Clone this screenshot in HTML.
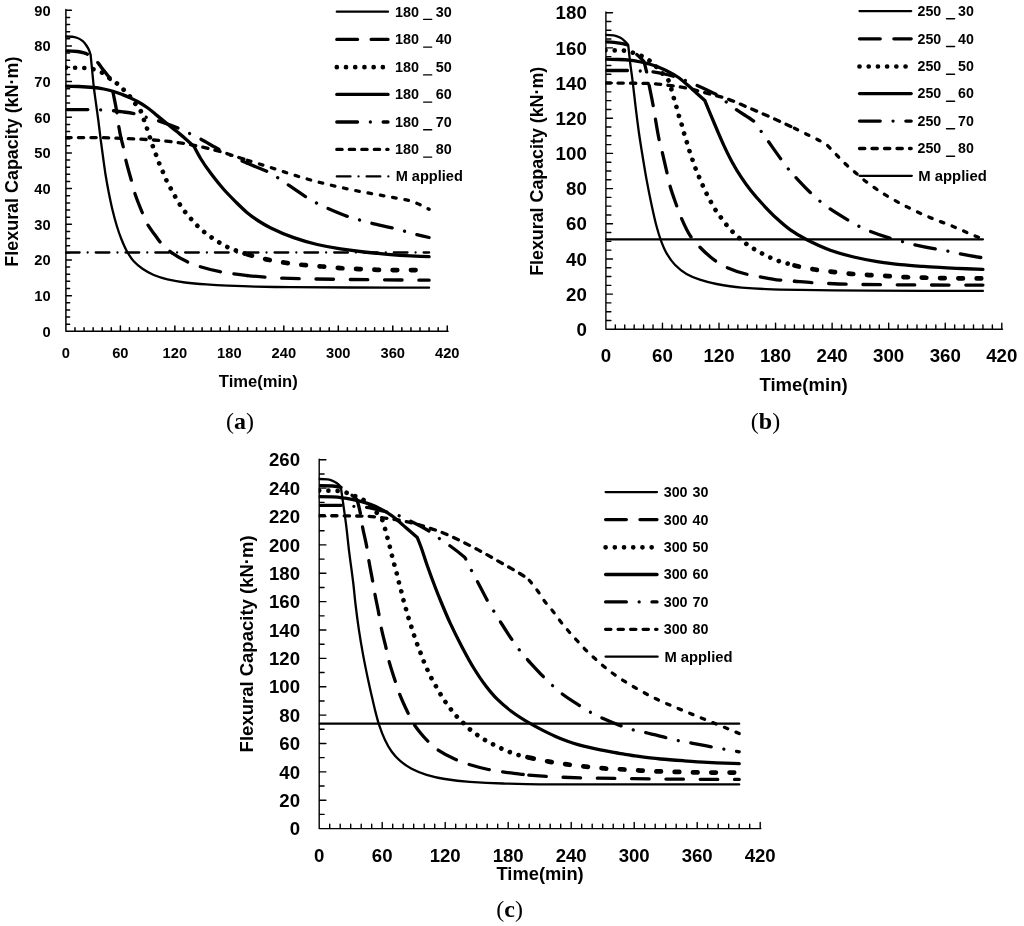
<!DOCTYPE html>
<html><head><meta charset="utf-8"><title>Flexural capacity charts</title>
<style>
html,body{margin:0;padding:0;background:#fff;}
body{width:1024px;height:926px;overflow:hidden;}
svg{display:block;will-change:transform;}
svg text{font-family:"Liberation Sans",sans-serif;font-weight:bold;fill:#000;}
svg text.cap{font-family:"Liberation Serif",serif;font-weight:normal;}
svg text.cap .capb{font-weight:bold;}
svg path{fill:none;stroke:#000;stroke-linecap:round;stroke-linejoin:round;}
</style></head>
<body>
<svg width="1024" height="926" viewBox="0 0 1024 926">
<rect width="1024" height="926" fill="#fff"/>
<path d="M65.9 9.52 V331.3 H448.01M65.9 324.17 h3.7M65.9 317.03 h3.7M65.9 309.9 h3.7M65.9 302.76 h3.7M65.9 295.63 h5.5M65.9 288.5 h3.7M65.9 281.36 h3.7M65.9 274.23 h3.7M65.9 267.09 h3.7M65.9 259.96 h5.5M65.9 252.83 h3.7M65.9 245.69 h3.7M65.9 238.56 h3.7M65.9 231.42 h3.7M65.9 224.29 h5.5M65.9 217.16 h3.7M65.9 210.02 h3.7M65.9 202.89 h3.7M65.9 195.75 h3.7M65.9 188.62 h5.5M65.9 181.49 h3.7M65.9 174.35 h3.7M65.9 167.22 h3.7M65.9 160.08 h3.7M65.9 152.95 h5.5M65.9 145.82 h3.7M65.9 138.68 h3.7M65.9 131.55 h3.7M65.9 124.41 h3.7M65.9 117.28 h5.5M65.9 110.15 h3.7M65.9 103.01 h3.7M65.9 95.88 h3.7M65.9 88.74 h3.7M65.9 81.61 h5.5M65.9 74.48 h3.7M65.9 67.34 h3.7M65.9 60.21 h3.7M65.9 53.07 h3.7M65.9 45.94 h5.5M65.9 38.81 h3.7M65.9 31.67 h3.7M65.9 24.54 h3.7M65.9 17.4 h3.7M65.9 10.27 h5.5M74.98 331.3 v-3.6M84.06 331.3 v-3.6M93.14 331.3 v-3.6M102.22 331.3 v-3.6M111.3 331.3 v-3.6M120.38 331.3 v-5.3M129.46 331.3 v-3.6M138.54 331.3 v-3.6M147.62 331.3 v-3.6M156.7 331.3 v-3.6M165.78 331.3 v-3.6M174.86 331.3 v-5.3M183.94 331.3 v-3.6M193.02 331.3 v-3.6M202.1 331.3 v-3.6M211.18 331.3 v-3.6M220.26 331.3 v-3.6M229.34 331.3 v-5.3M238.42 331.3 v-3.6M247.5 331.3 v-3.6M256.58 331.3 v-3.6M265.66 331.3 v-3.6M274.74 331.3 v-3.6M283.82 331.3 v-5.3M292.9 331.3 v-3.6M301.98 331.3 v-3.6M311.06 331.3 v-3.6M320.14 331.3 v-3.6M329.22 331.3 v-3.6M338.3 331.3 v-5.3M347.38 331.3 v-3.6M356.46 331.3 v-3.6M365.54 331.3 v-3.6M374.62 331.3 v-3.6M383.7 331.3 v-3.6M392.78 331.3 v-5.3M401.86 331.3 v-3.6M410.94 331.3 v-3.6M420.02 331.3 v-3.6M429.1 331.3 v-3.6M438.18 331.3 v-3.6M447.26 331.3 v-5.3" stroke-width="1.5" stroke-linecap="butt" stroke-linejoin="miter"/>
<g font-size="14.7" text-anchor="end">
<text x="50.7" y="336.56">0</text>
<text x="50.7" y="300.89">10</text>
<text x="50.7" y="265.22">20</text>
<text x="50.7" y="229.55">30</text>
<text x="50.7" y="193.88">40</text>
<text x="50.7" y="158.21">50</text>
<text x="50.7" y="122.54">60</text>
<text x="50.7" y="86.87">70</text>
<text x="50.7" y="51.2">80</text>
<text x="50.7" y="15.53">90</text>
</g>
<g font-size="14.7" text-anchor="middle">
<text x="65.9" y="357.9">0</text>
<text x="120.38" y="357.9">60</text>
<text x="174.86" y="357.9">120</text>
<text x="229.34" y="357.9">180</text>
<text x="283.82" y="357.9">240</text>
<text x="338.3" y="357.9">300</text>
<text x="392.78" y="357.9">360</text>
<text x="447.26" y="357.9">420</text>
</g>
<clipPath id="clipa"><rect x="65.3" y="0" width="500" height="926"/></clipPath>
<g clip-path="url(#clipa)">
<path d="M65.9 252.5H429.1" stroke-width="2.3" stroke-dasharray="13.7 8.05 0.01 8.05"/>
<path d="M65.9 36.5C68.1 36.5 70.3 36.6 72.5 36.75C74.17 36.86 75.83 37.42 77.5 38C79.17 38.58 80.83 39.59 82.5 40.9C83.75 41.88 85 43.49 86.25 45.25C87.08 46.43 87.92 47.82 88.75 49.6C89.37 50.92 89.98 52.68 90.6 54.6C91.03 58.98 91.47 63.36 91.9 67.75C92.52 73.99 93.13 81.14 93.75 86.5C94.58 93.74 95.42 99.08 96.25 105.25C96.97 110.56 97.68 115.48 98.4 121C99.13 126.65 99.87 133.19 100.6 138.9C101.43 145.38 102.27 151.49 103.1 157.5C103.93 163.51 104.77 169.81 105.6 175C106.65 181.53 107.7 187.16 108.75 192.5C110 198.86 111.25 204.83 112.5 210C113.97 216.07 115.43 221.51 116.9 226.25C118.35 230.94 119.8 235.1 121.25 238.75C123.13 243.49 125.02 247.92 126.9 251.25C129.18 255.29 131.47 258.76 133.75 261.25C136.67 264.43 139.58 266.77 142.5 268.75C146.25 271.3 150 273.46 153.75 275C158.33 276.88 162.92 278.34 167.5 279.4C173.33 280.75 179.17 281.8 185 282.5C192.08 283.35 199.17 283.91 206.25 284.4C213.33 284.89 220.42 285.28 227.5 285.6C236.67 286.01 245.83 286.38 255 286.6C266.67 286.88 278.33 287.11 290 287.2C310 287.36 330 287.43 350 287.5C376.37 287.59 402.73 287.67 429.1 287.7" stroke-width="2.3"/>
<path d="M65.9 50.9C69.77 50.9 73.63 51.16 77.5 51.5C79.67 51.69 81.83 52.27 84 52.9C85.8 53.42 87.6 54.2 89.4 55.2C90.6 55.86 91.8 56.9 93 57.9C94.2 58.9 95.4 59.97 96.6 61.25C98.73 63.52 100.87 66.68 103 69.5C105.33 72.58 107.67 74.87 110 79C110.23 79.41 110.47 79.98 110.7 80.5C111.5 84.57 112.3 88.65 113.1 92.75C114.23 98.56 115.37 103.31 116.5 110.25C117.17 114.33 117.83 120.74 118.5 124.8C119.42 130.39 120.33 134.95 121.25 139C121.87 141.72 122.48 143.5 123.1 146.25C123.82 149.45 124.53 154.29 125.25 157.5C127.25 166.47 129.25 172.47 131.25 180C132.3 183.95 133.35 188.56 134.4 191.9C137.02 200.22 139.63 206.08 142.25 212.5C143.77 216.22 145.28 220.33 146.8 223.1C149.53 228.1 152.27 231.14 155 235C156.67 237.35 158.33 239.94 160 241.9C162.7 245.07 165.4 247.87 168.1 250C174.37 254.94 180.63 258.59 186.9 261.6C190.43 263.3 193.97 264.76 197.5 265.9C205 268.33 212.5 270.2 220 271.7C223.53 272.41 227.07 273 230.6 273.5C236.23 274.3 241.87 274.94 247.5 275.52" stroke-width="3.3" stroke-dasharray="20.75 13.6" stroke-dashoffset="-1.2"/>
<path d="M247.5 275.52C253.97 276.18 260.43 276.78 266.9 277.25C271.47 277.58 276.03 277.9 280.6 278.1C287.27 278.39 293.93 278.6 300.6 278.75C305.32 278.86 310.03 278.93 314.75 279C333.17 279.28 351.58 279.51 370 279.7C389.7 279.9 409.4 280.08 429.1 280.2" stroke-width="3.3" stroke-dasharray="17.5 16.8"/>
<path d="M65.9 67.7C68.93 67.7 71.97 67.72 75 67.75C78.13 67.78 81.27 67.86 84.4 68C87.43 68.14 90.47 68.63 93.5 69.25C96.42 69.85 99.33 71.22 102.25 72.75C104.63 74 107.02 76.27 109.4 78C111.9 79.82 114.4 81.36 116.9 83.4C119.1 85.2 121.3 87.4 123.5 89.6C125.58 91.68 127.67 93.75 129.75 96.25C131.5 98.35 133.25 101.04 135 103.4C136.87 105.92 138.73 107.95 140.6 110.9C140.9 111.37 141.2 111.95 141.5 112.5C142.33 115.07 143.17 117.57 144 120C144.97 122.82 145.93 125.35 146.9 128.2C147.85 131 148.8 134.12 149.75 137C150.75 140.03 151.75 143.07 152.75 145.9C153.8 148.87 154.85 151.56 155.9 154.4C156.97 157.29 158.03 160.44 159.1 163.1C160.32 166.14 161.53 168.62 162.75 171.5C163.92 174.26 165.08 177.5 166.25 180C167.67 183.04 169.08 185.46 170.5 188.1C172 190.9 173.5 193.68 175 196.3C176.57 199.04 178.13 201.77 179.7 204.2C181.47 206.94 183.23 209.51 185 211.8C186.97 214.35 188.93 216.52 190.9 218.75C193.02 221.15 195.13 223.6 197.25 225.7C199.5 227.93 201.75 229.95 204 231.8C206.43 233.8 208.87 235.59 211.3 237.3C213.83 239.08 216.37 240.76 218.9 242.3C221.63 243.96 224.37 245.6 227.1 246.9C229.93 248.25 232.77 249.34 235.6 250.4C239.57 251.88 243.53 253.19 247.5 254.42" stroke-width="4.7" stroke-dasharray="0.01 9.2"/>
<path d="M247.5 254.42C247.7 254.48 247.9 254.54 248.1 254.6C254.57 256.42 261.03 258.25 267.5 259.6C273.47 260.84 279.43 261.89 285.4 262.75C291.52 263.63 297.63 264.4 303.75 265C309.87 265.6 315.98 265.98 322.1 266.5C328.2 267.02 334.3 267.69 340.4 268.1C346.6 268.51 352.8 268.82 359 269.1C365.1 269.37 371.2 269.66 377.3 269.8C383.4 269.94 389.5 270.1 395.6 270.1C401.7 270.1 407.8 270.1 413.9 270.1C418.97 270.1 424.03 270.1 429.1 270.1" stroke-width="4.7" stroke-dasharray="4.6 13.7"/>
<path d="M65.9 86.1C70.18 86.16 74.47 86.32 78.75 86.5C83.75 86.71 88.75 87.03 93.75 87.5C97.08 87.82 100.42 88.38 103.75 89C107.08 89.62 110.42 90.52 113.75 91.5C116.67 92.36 119.58 93.48 122.5 94.6C125 95.56 127.5 96.61 130 97.75C132.5 98.89 135 100.12 137.5 101.5C140.83 103.34 144.17 105.39 147.5 107.75C150.83 110.11 154.17 113.19 157.5 115.9C160.83 118.61 164.17 121.3 167.5 124C170.83 126.7 174.17 129.36 177.5 132.1C180.42 134.5 183.33 136.85 186.25 139.4C188.87 141.69 191.48 144.1 194.1 146.6C196.27 150.87 198.43 154.96 200.6 158.5C204.3 164.55 208 169.67 211.7 174.6C215.6 179.8 219.5 184.6 223.4 189C227.33 193.44 231.27 197.39 235.2 201.3C239.1 205.17 243 209.17 246.9 212.4C250.8 215.63 254.7 218.49 258.6 221C262.5 223.51 266.4 225.77 270.3 227.7C278.1 231.56 285.9 234.9 293.7 237.6C301.53 240.32 309.37 242.7 317.2 244.5C325 246.29 332.8 247.69 340.6 248.9C348.4 250.11 356.2 251.12 364 252C371.83 252.88 379.67 253.67 387.5 254.3C395.3 254.93 403.1 255.49 410.9 255.9C416.97 256.22 423.03 256.5 429.1 256.7" stroke-width="3.3"/>
<path d="M65.9 109.6C73.6 109.6 81.3 109.6 89 109.6C92.67 109.6 96.33 109.76 100 109.9C103.83 110.04 107.67 110.3 111.5 110.6C115.33 110.9 119.17 111.4 123 111.9C127 112.42 131 112.92 135 113.75C138.53 114.49 142.07 116.04 145.6 117.1C149.37 118.23 153.13 119.12 156.9 120.3C160.6 121.46 164.3 122.84 168 124.2C171.8 125.6 175.6 126.98 179.4 128.6C182.77 130.04 186.13 131.74 189.5 133.4C192.97 135.1 196.43 136.86 199.9 138.7C206.57 142.24 213.23 146.38 219.9 149.9C227.1 153.71 234.3 157.37 241.5 160.7C243.5 161.63 245.5 162.49 247.5 163.34" stroke-width="3.3" stroke-dasharray="20.75 12.8 0.01 12.8" stroke-dashoffset="-1.2"/>
<path d="M247.5 163.34C254.37 166.28 261.23 168.94 268.1 171.8C268.73 172.06 269.37 172.33 270 172.6C272.7 174.38 275.4 176.18 278.1 178C281.43 180.24 284.77 182.55 288.1 184.8C294.3 188.99 300.5 193.44 306.7 197.3C310.1 199.42 313.5 201.53 316.9 203.3C320.47 205.16 324.03 206.75 327.6 208.3C334.73 211.41 341.87 214.54 349 216.9C352.8 218.16 356.6 219.14 360.4 220.2C364.1 221.23 367.8 222.28 371.5 223.2C379.27 225.14 387.03 226.53 394.8 228.5C398.4 229.41 402 230.5 405.6 231.5C409.3 232.53 413 233.66 416.7 234.6C420.83 235.65 424.97 236.63 429.1 237.5" stroke-width="3.3" stroke-dasharray="20.75 12.8 0.01 12.8"/>
<path d="M65.9 137.6C77.27 137.6 88.63 137.6 100 137.6C107.5 137.6 115 138.09 122.5 138.4C130.83 138.74 139.17 139.08 147.5 139.6C153.75 139.99 160 140.56 166.25 141.2C172.5 141.84 178.75 142.63 185 143.6C190 144.38 195 145.42 200 146.5C206.67 147.94 213.33 149.64 220 151.5C228.33 153.83 236.67 156.86 245 159.5C245.83 159.76 246.67 160.03 247.5 160.29" stroke-width="3.3" stroke-dasharray="5.3 7.2"/>
<path d="M247.5 160.29C255 162.64 262.5 164.92 270 167.3C278.33 169.95 286.67 172.88 295 175.4C303.33 177.92 311.67 180.36 320 182.5C326.67 184.21 333.33 185.7 340 187.2C345.5 188.43 351 189.65 356.5 190.75C367.6 192.98 378.7 194.87 389.8 196.9C395.33 197.91 400.87 198.73 406.4 199.9C407.93 200.22 409.47 200.61 411 201C413.9 202.08 416.8 203.29 419.7 204.6C422.83 206.02 425.97 207.59 429.1 209.3" stroke-width="3.3" stroke-dasharray="3.6 8.9"/>
</g>
<path d="M336.8 11.7H388" stroke-width="2.3"/>
<path d="M336.8 39.4H388" stroke-width="3.3" stroke-dasharray="20.75 13.6"/>
<path d="M336.8 67.2H388" stroke-width="4.7" stroke-dasharray="0.01 9.2"/>
<path d="M336.8 94.4H388" stroke-width="3.3"/>
<path d="M336.8 122H388" stroke-width="3.3" stroke-dasharray="20.75 12.8 0.01 12.8"/>
<path d="M336.8 149.4H388" stroke-width="3.3" stroke-dasharray="5.3 7.2"/>
<path d="M336.8 176.4H388.6" stroke-width="2.3" stroke-dasharray="13.7 8.05 0.01 8.05"/>
<g font-size="14.4">
<text x="395" y="16.66">180</text>
<path d="M423.6 19.4h8.1" stroke-width="1.4" stroke-linecap="butt"/>
<text x="435.7" y="16.66">30</text>
<text x="395" y="44.36">180</text>
<path d="M423.6 47.1h8.1" stroke-width="1.4" stroke-linecap="butt"/>
<text x="435.7" y="44.36">40</text>
<text x="395" y="72.16">180</text>
<path d="M423.6 74.9h8.1" stroke-width="1.4" stroke-linecap="butt"/>
<text x="435.7" y="72.16">50</text>
<text x="395" y="99.36">180</text>
<path d="M423.6 102.1h8.1" stroke-width="1.4" stroke-linecap="butt"/>
<text x="435.7" y="99.36">60</text>
<text x="395" y="126.96">180</text>
<path d="M423.6 129.7h8.1" stroke-width="1.4" stroke-linecap="butt"/>
<text x="435.7" y="126.96">70</text>
<text x="395" y="154.36">180</text>
<path d="M423.6 157.1h8.1" stroke-width="1.4" stroke-linecap="butt"/>
<text x="435.7" y="154.36">80</text>
<text x="395.7" y="181.36" textLength="67.2" lengthAdjust="spacingAndGlyphs">M applied</text>
</g>
<text transform="translate(18.4 161.65) rotate(-90)" font-size="17.8" text-anchor="middle" textLength="210" lengthAdjust="spacingAndGlyphs">Flexural Capacity (kN·m)</text>
<text x="258.3" y="387" font-size="16.5" text-anchor="middle" textLength="79" lengthAdjust="spacingAndGlyphs">Time(min)</text>
<text x="240.1" y="429.1" font-size="24" text-anchor="middle" class="cap">(<tspan class="capb">a</tspan>)</text>
<path d="M605.9 11.98 V329.3 H1002.49M605.9 320.5 h5M605.9 311.71 h5M605.9 302.92 h5M605.9 294.12 h6.6M605.9 285.33 h5M605.9 276.53 h5M605.9 267.74 h5M605.9 258.94 h6.6M605.9 250.15 h5M605.9 241.35 h5M605.9 232.56 h5M605.9 223.76 h6.6M605.9 214.97 h5M605.9 206.17 h5M605.9 197.38 h5M605.9 188.58 h6.6M605.9 179.79 h5M605.9 170.99 h5M605.9 162.2 h5M605.9 153.4 h6.6M605.9 144.61 h5M605.9 135.81 h5M605.9 127.02 h5M605.9 118.22 h6.6M605.9 109.43 h5M605.9 100.63 h5M605.9 91.84 h5M605.9 83.04 h6.6M605.9 74.25 h5M605.9 65.45 h5M605.9 56.66 h5M605.9 47.86 h6.6M605.9 39.07 h5M605.9 30.27 h5M605.9 21.48 h5M605.9 12.68 h6.6M615.33 329.3 v-4.3M624.75 329.3 v-4.3M634.18 329.3 v-4.3M643.6 329.3 v-4.3M653.03 329.3 v-4.3M662.46 329.3 v-6M671.88 329.3 v-4.3M681.31 329.3 v-4.3M690.73 329.3 v-4.3M700.16 329.3 v-4.3M709.59 329.3 v-4.3M719.01 329.3 v-6M728.44 329.3 v-4.3M737.86 329.3 v-4.3M747.29 329.3 v-4.3M756.72 329.3 v-4.3M766.14 329.3 v-4.3M775.57 329.3 v-6M784.99 329.3 v-4.3M794.42 329.3 v-4.3M803.85 329.3 v-4.3M813.27 329.3 v-4.3M822.7 329.3 v-4.3M832.12 329.3 v-6M841.55 329.3 v-4.3M850.98 329.3 v-4.3M860.4 329.3 v-4.3M869.83 329.3 v-4.3M879.25 329.3 v-4.3M888.68 329.3 v-6M898.11 329.3 v-4.3M907.53 329.3 v-4.3M916.96 329.3 v-4.3M926.38 329.3 v-4.3M935.81 329.3 v-4.3M945.24 329.3 v-6M954.66 329.3 v-4.3M964.09 329.3 v-4.3M973.51 329.3 v-4.3M982.94 329.3 v-4.3M992.37 329.3 v-4.3M1001.79 329.3 v-6" stroke-width="1.4" stroke-linecap="butt" stroke-linejoin="miter"/>
<g font-size="18.7" text-anchor="end">
<text x="586.8" y="335.99">0</text>
<text x="586.8" y="300.81">20</text>
<text x="586.8" y="265.63">40</text>
<text x="586.8" y="230.45">60</text>
<text x="586.8" y="195.27">80</text>
<text x="586.8" y="160.09">100</text>
<text x="586.8" y="124.91">120</text>
<text x="586.8" y="89.73">140</text>
<text x="586.8" y="54.55">160</text>
<text x="586.8" y="19.37">180</text>
</g>
<g font-size="18.7" text-anchor="middle">
<text x="605.9" y="362.3">0</text>
<text x="662.46" y="362.3">60</text>
<text x="719.01" y="362.3">120</text>
<text x="775.57" y="362.3">180</text>
<text x="832.12" y="362.3">240</text>
<text x="888.68" y="362.3">300</text>
<text x="945.24" y="362.3">360</text>
<text x="1001.79" y="362.3">420</text>
</g>
<clipPath id="clipb"><rect x="605.3" y="0" width="500" height="926"/></clipPath>
<g clip-path="url(#clipb)">
<path d="M605.9 239.3H982.94" stroke-width="2.3"/>
<path d="M605.5 34.8C608.27 34.8 611.03 35 613.8 35.3C615.87 35.52 617.93 36.49 620 37.5C621.67 38.32 623.33 39.75 625 41.3C626.07 42.29 627.13 43.6 628.2 45C628.8 50.77 629.4 56.31 630 61.3C630.93 69.07 631.87 75.05 632.8 82.6C633.77 90.42 634.73 99.79 635.7 107.7C636.77 116.43 637.83 124.99 638.9 132.5C640.07 140.71 641.23 147.79 642.4 155C643.8 163.65 645.2 172.29 646.6 179.9C648.27 188.96 649.93 197.17 651.6 204.9C653.27 212.63 654.93 220.35 656.6 226.5C657.97 231.54 659.33 236.09 660.7 239.8C662.63 245.05 664.57 249.72 666.5 253.1C669.3 258 672.1 261.84 674.9 264.7C678.77 268.65 682.63 271.73 686.5 273.9C690.93 276.38 695.37 278.15 699.8 279.6C705.4 281.44 711 282.94 716.6 284C724.93 285.58 733.27 286.89 741.6 287.6C749.9 288.3 758.2 288.81 766.5 289.1C777.6 289.49 788.7 289.69 799.8 289.9C810.9 290.11 822 290.31 833.1 290.4C845.3 290.5 857.5 290.55 869.7 290.6C907.43 290.74 945.17 290.88 982.9 290.9" stroke-width="2.3"/>
<path d="M605.5 41.9C609.5 41.9 613.5 42.35 617.5 42.8C620.57 43.14 623.63 43.59 626.7 44.7C628.13 45.22 629.57 47.11 631 48.5C632.47 49.92 633.93 51.74 635.4 53.2C636.93 54.73 638.47 56.02 640 57.5C641.27 58.73 642.53 60 643.8 61.3C644.73 64.17 645.67 67.86 646.6 72C647.43 75.69 648.27 80.81 649.1 85.1C650.47 92.14 651.83 98.26 653.2 105.8C653.83 109.29 654.47 113.42 655.1 117.1C656.4 124.65 657.7 133.03 659 139.1C659.97 143.61 660.93 146.77 661.9 150.8C663.6 157.88 665.3 165.4 667 172.9C667.83 176.58 668.67 181 669.5 184.1C671.83 192.78 674.17 198.6 676.5 205.2C677.9 209.16 679.3 213.22 680.7 216.5C684.03 224.3 687.37 231.59 690.7 236.5C693.17 240.13 695.63 242.72 698.1 245.3C703.67 251.12 709.23 256.42 714.8 260.4C718.2 262.83 721.6 265.03 725 266.6C731.97 269.81 738.93 272.27 745.9 274C749.73 274.95 753.57 275.59 757.4 276.3C764.87 277.68 772.33 279.33 779.8 280.1C783.6 280.49 787.4 280.69 791.2 281C792.27 281.09 793.35 281.18 794.42 281.26" stroke-width="3.3" stroke-dasharray="20.75 13.6" stroke-dashoffset="-1.2"/>
<path d="M794.42 281.26C800.91 281.79 807.41 282.41 813.9 282.8C818.63 283.08 823.37 283.3 828.1 283.5C834.47 283.77 840.83 284.04 847.2 284.2C852.2 284.33 857.2 284.45 862.2 284.5C902.43 284.88 942.67 285.1 982.9 285.1" stroke-width="3.3" stroke-dasharray="17.5 16.8"/>
<path d="M605.5 50.3C608.67 50.3 611.83 50.35 615 50.4C618.07 50.45 621.13 50.52 624.2 50.7C627.2 50.87 630.2 51.92 633.2 52.8C636.03 53.63 638.87 54.78 641.7 56.1C644.37 57.34 647.03 58.78 649.7 60.7C651.93 62.31 654.17 64.77 656.4 67C658.43 69.03 660.47 71.34 662.5 73.5C664.2 75.31 665.9 77.11 667.6 78.9C667.93 79.39 668.27 79.97 668.6 80.7C669.53 82.73 670.47 86.2 671.4 89.3C672.23 92.07 673.07 95.39 673.9 98.3C674.73 101.21 675.57 103.89 676.4 106.8C677.23 109.71 678.07 113 678.9 115.8C679.83 118.94 680.77 121.43 681.7 124.6C682.5 127.31 683.3 130.65 684.1 133.4C685 136.49 685.9 139.15 686.8 142.1C687.7 145.05 688.6 148.29 689.5 151.1C690.5 154.22 691.5 157.03 692.5 159.9C693.53 162.86 694.57 165.91 695.6 168.6C696.77 171.64 697.93 174.34 699.1 177.1C700.3 179.94 701.5 182.73 702.7 185.4C704 188.3 705.3 191.17 706.6 193.8C708 196.63 709.4 199.26 710.8 201.8C712.37 204.64 713.93 207.46 715.5 209.9C717.27 212.65 719.03 214.98 720.8 217.4C722.63 219.91 724.47 222.46 726.3 224.7C728.33 227.19 730.37 229.53 732.4 231.6C734.63 233.88 736.87 235.83 739.1 237.8C741.43 239.86 743.77 241.97 746.1 243.7C748.67 245.61 751.23 247.23 753.8 248.8C756.5 250.45 759.2 251.95 761.9 253.4C764.6 254.85 767.3 256.27 770 257.5C772.83 258.79 775.67 260.05 778.5 261C781.43 261.99 784.37 262.67 787.3 263.5C789.67 264.17 792.05 264.88 794.42 265.49" stroke-width="4.7" stroke-dasharray="0.01 9.2"/>
<path d="M794.42 265.49C795.11 265.67 795.81 265.85 796.5 266C802.6 267.35 808.7 268.56 814.8 269.5C820.77 270.42 826.73 271.1 832.7 271.8C838.8 272.52 844.9 273.28 851 273.8C857.3 274.33 863.6 274.72 869.9 275.1C876 275.47 882.1 275.75 888.2 276.1C894.3 276.45 900.4 276.97 906.5 277.2C912.6 277.43 918.7 277.55 924.8 277.7C930.9 277.85 937 277.99 943.1 278.1C949.2 278.21 955.3 278.4 961.4 278.4C968.57 278.4 975.73 278.4 982.9 278.4" stroke-width="4.7" stroke-dasharray="4.6 13.7"/>
<path d="M605.5 59.1C609.93 59.16 614.37 59.32 618.8 59.5C622.97 59.67 627.13 59.9 631.3 60.3C635.47 60.7 639.63 61.66 643.8 62.6C648 63.55 652.2 64.8 656.4 66.3C660.57 67.79 664.73 69.88 668.9 72C671.83 73.49 674.77 75.05 677.7 77C681.03 79.22 684.37 82.26 687.7 85.1C690.6 87.57 693.5 90.29 696.4 92.9C699.2 95.42 702 97.96 704.8 100.5C706.53 104.79 708.27 109.03 710 113.2C712.37 118.89 714.73 124.51 717.1 130C719.53 135.64 721.97 141.42 724.4 146.6C727 152.14 729.6 157.46 732.2 162.2C735.13 167.55 738.07 172.45 741 176.9C744.27 181.86 747.53 186.37 750.8 190.5C754.7 195.43 758.6 199.78 762.5 204C767.37 209.26 772.23 214.35 777.1 218.8C781.4 222.74 785.7 226.56 790 229.6C795.63 233.58 801.27 236.89 806.9 239.8C814.7 243.83 822.5 247.46 830.3 250.2C838.1 252.94 845.9 255.18 853.7 257C861.53 258.83 869.37 260.36 877.2 261.6C885 262.83 892.8 263.95 900.6 264.7C908.13 265.42 915.67 265.9 923.2 266.4C928.73 266.77 934.27 267.08 939.8 267.4C945.33 267.72 950.87 268.04 956.4 268.3C965.23 268.72 974.07 269.1 982.9 269.4" stroke-width="3.3"/>
<path d="M605.5 70.5C613.37 70.5 621.23 70.5 629.1 70.5C632.77 70.5 636.43 70.81 640.1 71C643.87 71.2 647.63 71.36 651.4 71.7C654.93 72.02 658.47 72.8 662 73.5C665.97 74.29 669.93 75.24 673.9 76.4C677.67 77.5 681.43 79.04 685.2 80.5C688.73 81.87 692.27 83.38 695.8 84.9C699.53 86.51 703.27 88.14 707 89.9C710.67 91.63 714.33 93.47 718 95.4C720.87 97.7 723.73 99.97 726.6 102.2C729.83 104.71 733.07 107.27 736.3 109.6C742.5 114.06 748.7 117.12 754.9 122.1C755.6 122.66 756.3 123.35 757 124C758.5 126.84 760 129.55 761.5 131.9C763.87 135.61 766.23 138.5 768.6 141.8C772.9 147.8 777.2 153.94 781.5 159.8C783.97 163.16 786.43 166.7 788.9 169.7C790.77 171.97 792.63 173.94 794.5 176C795.01 176.56 795.51 177.11 796.02 177.66" stroke-width="3.3" stroke-dasharray="20.75 12.8 0.01 12.8" stroke-dashoffset="-1.2"/>
<path d="M796.02 177.66C800.61 182.57 805.21 187.51 809.8 192C812.67 194.8 815.53 197.57 818.4 200C821.63 202.74 824.87 205.22 828.1 207.5C834.47 211.98 840.83 215.78 847.2 219.6C850.57 221.62 853.93 223.64 857.3 225.4C860.87 227.26 864.43 229.03 868 230.5C875.3 233.51 882.6 236.02 889.9 238.2C893.67 239.32 897.43 240.19 901.2 241.2C905.03 242.23 908.87 243.39 912.7 244.3C920.33 246.11 927.97 247.61 935.6 249C939.4 249.69 943.2 250.17 947 250.9C950.8 251.63 954.6 252.73 958.4 253.5C966.57 255.15 974.73 256.66 982.9 257.8" stroke-width="3.3" stroke-dasharray="20.75 12.8 0.01 12.8"/>
<path d="M605.5 83C620.37 83 635.23 83.16 650.1 83.5C656.37 83.64 662.63 84.63 668.9 85.4C675.17 86.17 681.43 87.09 687.7 88.3C691.87 89.11 696.03 90.32 700.2 91.4C704.37 92.48 708.53 93.67 712.7 94.8C716.9 95.94 721.1 96.86 725.3 98.2C733.5 100.81 741.7 104.83 749.9 108.3C761 113 772.1 117.79 783.2 122.9C786.94 124.62 790.68 126.45 794.42 128.27" stroke-width="3.3" stroke-dasharray="5.3 7.2"/>
<path d="M794.42 128.27C798.45 130.22 802.47 132.23 806.5 134.2C810.93 136.37 815.37 138.43 819.8 140.7C822 141.82 824.2 143 826.4 144.2C830.3 148.42 834.2 152.51 838.1 156.5C840.87 159.33 843.63 162.22 846.4 164.8C849.73 167.91 853.07 170.65 856.4 173.5C859.7 176.32 863 179.28 866.3 181.8C872.5 186.53 878.7 190.78 884.9 194.6C892.1 199.04 899.3 202.96 906.5 206.6C914.27 210.53 922.03 214.11 929.8 217.4C937.57 220.69 945.33 223.32 953.1 226.5C960.87 229.68 968.63 233.38 976.4 236.5C978.57 237.37 980.73 238.19 982.9 239" stroke-width="3.3" stroke-dasharray="3.6 8.9"/>
</g>
<path d="M859.5 11.1H911.2" stroke-width="2.3"/>
<path d="M859.5 38.8H911.2" stroke-width="3.3" stroke-dasharray="20.75 13.6"/>
<path d="M859.5 66.5H911.2" stroke-width="4.7" stroke-dasharray="0.01 9.2"/>
<path d="M859.5 93.6H911.2" stroke-width="3.3"/>
<path d="M859.5 121.1H911.2" stroke-width="3.3" stroke-dasharray="20.75 12.8 0.01 12.8"/>
<path d="M859.5 148.5H911.2" stroke-width="3.3" stroke-dasharray="5.3 7.2"/>
<path d="M859.5 175.8H911.8" stroke-width="2.3"/>
<g font-size="14.2">
<text x="917.5" y="15.98">250</text>
<path d="M946.5 18.8h8.1" stroke-width="1.4" stroke-linecap="butt"/>
<text x="958.1" y="15.98">30</text>
<text x="917.5" y="43.68">250</text>
<path d="M946.5 46.5h8.1" stroke-width="1.4" stroke-linecap="butt"/>
<text x="958.1" y="43.68">40</text>
<text x="917.5" y="71.38">250</text>
<path d="M946.5 74.2h8.1" stroke-width="1.4" stroke-linecap="butt"/>
<text x="958.1" y="71.38">50</text>
<text x="917.5" y="98.48">250</text>
<path d="M946.5 101.3h8.1" stroke-width="1.4" stroke-linecap="butt"/>
<text x="958.1" y="98.48">60</text>
<text x="917.5" y="125.98">250</text>
<path d="M946.5 128.8h8.1" stroke-width="1.4" stroke-linecap="butt"/>
<text x="958.1" y="125.98">70</text>
<text x="917.5" y="153.38">250</text>
<path d="M946.5 156.2h8.1" stroke-width="1.4" stroke-linecap="butt"/>
<text x="958.1" y="153.38">80</text>
<text x="918.2" y="180.68" textLength="68.6" lengthAdjust="spacingAndGlyphs">M applied</text>
</g>
<text transform="translate(542.9 171.3) rotate(-90)" font-size="18.2" text-anchor="middle" textLength="209" lengthAdjust="spacingAndGlyphs">Flexural Capacity (kN·m)</text>
<text x="803.55" y="390.5" font-size="18.4" text-anchor="middle" textLength="88.2" lengthAdjust="spacingAndGlyphs">Time(min)</text>
<text x="765.5" y="429.1" font-size="24" text-anchor="middle" class="cap">(<tspan class="capb">b</tspan>)</text>
<path d="M319.2 459.09 V828.6 H760.9M319.2 814.42 h4.9M319.2 800.23 h6.7M319.2 786.05 h4.9M319.2 771.86 h6.7M319.2 757.67 h4.9M319.2 743.49 h6.7M319.2 729.31 h4.9M319.2 715.12 h6.7M319.2 700.94 h4.9M319.2 686.75 h6.7M319.2 672.57 h4.9M319.2 658.38 h6.7M319.2 644.2 h4.9M319.2 630.01 h6.7M319.2 615.83 h4.9M319.2 601.64 h6.7M319.2 587.46 h4.9M319.2 573.27 h6.7M319.2 559.09 h4.9M319.2 544.9 h6.7M319.2 530.71 h4.9M319.2 516.53 h6.7M319.2 502.35 h4.9M319.2 488.16 h6.7M319.2 473.98 h4.9M319.2 459.79 h6.7M329.7 828.6 v-4.5M340.2 828.6 v-4.5M350.7 828.6 v-4.5M361.2 828.6 v-4.5M371.7 828.6 v-4.5M382.2 828.6 v-6.2M392.7 828.6 v-4.5M403.2 828.6 v-4.5M413.7 828.6 v-4.5M424.2 828.6 v-4.5M434.7 828.6 v-4.5M445.2 828.6 v-6.2M455.7 828.6 v-4.5M466.2 828.6 v-4.5M476.7 828.6 v-4.5M487.2 828.6 v-4.5M497.7 828.6 v-4.5M508.2 828.6 v-6.2M518.7 828.6 v-4.5M529.2 828.6 v-4.5M539.7 828.6 v-4.5M550.2 828.6 v-4.5M560.7 828.6 v-4.5M571.2 828.6 v-6.2M581.7 828.6 v-4.5M592.2 828.6 v-4.5M602.7 828.6 v-4.5M613.2 828.6 v-4.5M623.7 828.6 v-4.5M634.2 828.6 v-6.2M644.7 828.6 v-4.5M655.2 828.6 v-4.5M665.7 828.6 v-4.5M676.2 828.6 v-4.5M686.7 828.6 v-4.5M697.2 828.6 v-6.2M707.7 828.6 v-4.5M718.2 828.6 v-4.5M728.7 828.6 v-4.5M739.2 828.6 v-4.5M749.7 828.6 v-4.5M760.2 828.6 v-6.2" stroke-width="1.4" stroke-linecap="butt" stroke-linejoin="miter"/>
<g font-size="18.6" text-anchor="end">
<text x="300" y="835.26">0</text>
<text x="300" y="806.89">20</text>
<text x="300" y="778.52">40</text>
<text x="300" y="750.15">60</text>
<text x="300" y="721.78">80</text>
<text x="300" y="693.41">100</text>
<text x="300" y="665.04">120</text>
<text x="300" y="636.67">140</text>
<text x="300" y="608.3">160</text>
<text x="300" y="579.93">180</text>
<text x="300" y="551.56">200</text>
<text x="300" y="523.19">220</text>
<text x="300" y="494.82">240</text>
<text x="300" y="466.45">260</text>
</g>
<g font-size="18.6" text-anchor="middle">
<text x="319.2" y="861.5">0</text>
<text x="382.2" y="861.5">60</text>
<text x="445.2" y="861.5">120</text>
<text x="508.2" y="861.5">180</text>
<text x="571.2" y="861.5">240</text>
<text x="634.2" y="861.5">300</text>
<text x="697.2" y="861.5">360</text>
<text x="760.2" y="861.5">420</text>
</g>
<clipPath id="clipc"><rect x="318.6" y="0" width="500" height="926"/></clipPath>
<g clip-path="url(#clipc)">
<path d="M319.2 723.7H739.2" stroke-width="2.3"/>
<path d="M319.2 479C322.07 479 324.93 479.16 327.8 479.4C329.87 479.58 331.93 480.56 334 481.5C335.47 482.17 336.93 483.1 338.4 484.4C339.23 485.14 340.07 486.29 340.9 487.5C341.73 493.25 342.57 499.11 343.4 505.1C344.37 512.05 345.33 518.6 346.3 526.4C347.23 533.93 348.17 543.79 349.1 551.4C349.93 558.19 350.77 563.86 351.6 570.2C352.13 574.26 352.67 578.02 353.2 582.5C354 589.21 354.8 598.27 355.6 605C356.7 614.25 357.8 622.54 358.9 629.9C360.3 639.26 361.7 647.29 363.1 654.9C364.77 663.96 366.43 671.97 368.1 679.8C369.23 685.12 370.37 690.04 371.5 695C372.67 700.11 373.83 705.4 375 710C376.37 715.39 377.73 720.77 379.1 724.9C381.07 730.85 383.03 735.8 385 739.9C387.2 744.49 389.4 748.48 391.6 751.5C394.37 755.29 397.13 758.33 399.9 760.7C403.8 764.04 407.7 766.69 411.6 768.7C416.6 771.28 421.6 773.32 426.6 774.8C432.7 776.61 438.8 778.06 444.9 779C453.2 780.28 461.5 781.21 469.8 781.8C480.9 782.59 492 783.16 503.1 783.5C515.3 783.88 527.5 784.28 539.7 784.3C606.2 784.38 672.7 784.4 739.2 784.4" stroke-width="2.3"/>
<path d="M319.2 485.7C323.73 485.7 328.27 485.81 332.8 486C335.5 486.11 338.2 486.58 340.9 487.3C343 487.86 345.1 489.99 347.2 491.5C349.13 492.89 351.07 494.36 353 496C354.27 497.07 355.53 498.26 356.8 499.5C357.13 500.39 357.47 501.36 357.8 502.5C358.73 505.7 359.67 509.55 360.6 514.5C361.13 517.33 361.67 522.05 362.2 525.1C363.77 534.06 365.33 538.77 366.9 547.7C367.5 551.12 368.1 555.98 368.7 559.6C370 567.45 371.3 573.47 372.6 580.8C373.3 584.74 374 589.2 374.7 593C376.1 600.6 377.5 606.4 378.9 614.1C379.6 617.95 380.3 623.06 381 626.6C382.67 635.03 384.33 640.43 386 647.7C386.97 651.91 387.93 657 388.9 660.7C391 668.74 393.1 674.49 395.2 681C396.53 685.13 397.87 689.5 399.2 693C402.07 700.53 404.93 706.58 407.8 712.5C409.73 716.49 411.67 720.51 413.6 723.6C415.9 727.28 418.2 730.17 420.5 733C422.7 735.7 424.9 738.17 427.1 740.4C430.13 743.47 433.17 746.55 436.2 748.7C442.7 753.32 449.2 756.58 455.7 759.5C459.3 761.12 462.9 762.54 466.5 763.7C473.8 766.05 481.1 767.96 488.4 769.5C492.07 770.27 495.73 770.94 499.4 771.5C506.83 772.63 514.27 773.36 521.7 774.3C524.07 774.6 526.43 775.02 528.8 775.2" stroke-width="3.3" stroke-dasharray="20.75 13.6" stroke-dashoffset="-1.2"/>
<path d="M528.8 775.2C551.2 776.9 573.6 777.86 596 778.2C643.73 778.93 691.47 779.4 739.2 779.4" stroke-width="3.3" stroke-dasharray="17.5 16.8"/>
<path d="M319.2 490.6C322.27 490.62 325.33 490.66 328.4 490.7C331.53 490.75 334.67 490.78 337.8 490.9C340.8 491.02 343.8 491.97 346.8 492.8C349.43 493.53 352.07 494.77 354.7 495.9C357.63 497.16 360.57 498.27 363.5 500.1C365.67 501.45 367.83 503.65 370 505.7C372.2 507.78 374.4 510.09 376.6 512.6C378.27 514.5 379.93 516.59 381.6 518.8C381.83 519.17 382.07 519.58 382.3 520.1C383.23 522.17 384.17 525.7 385.1 528.9C385.9 531.64 386.7 534.87 387.5 537.9C388.27 540.8 389.03 543.65 389.8 546.7C390.53 549.62 391.27 552.88 392 555.8C392.77 558.85 393.53 561.75 394.3 564.6C395.1 567.58 395.9 570.21 396.7 573.3C397.43 576.14 398.17 579.53 398.9 582.4C399.7 585.53 400.5 588.19 401.3 591.3C402.03 594.15 402.77 597.52 403.5 600.3C404.33 603.46 405.17 606.17 406 609.1C406.83 612.03 407.67 615.15 408.5 617.9C409.43 620.98 410.37 623.68 411.3 626.6C412.23 629.52 413.17 632.6 414.1 635.4C415.1 638.4 416.1 641.29 417.1 644C418.23 647.07 419.37 649.74 420.5 652.7C421.6 655.57 422.7 658.78 423.8 661.5C425 664.47 426.2 667.18 427.4 669.8C428.73 672.71 430.07 675.53 431.4 678.1C432.87 680.93 434.33 683.41 435.8 686C437.33 688.71 438.87 691.47 440.4 694C442.03 696.7 443.67 699.31 445.3 701.7C447.1 704.34 448.9 706.77 450.7 709.1C452.63 711.6 454.57 714.07 456.5 716.2C458.6 718.51 460.7 720.43 462.8 722.5C465.03 724.7 467.27 727.08 469.5 729C471.93 731.09 474.37 732.85 476.8 734.6C479.37 736.44 481.93 738.26 484.5 739.8C487.23 741.44 489.97 742.79 492.7 744.2C495.47 745.62 498.23 747.03 501 748.3C503.8 749.59 506.6 750.82 509.4 751.9C512.27 753 515.13 754.07 518 754.9C521.73 755.98 525.47 756.77 529.2 757.62" stroke-width="4.7" stroke-dasharray="0.01 9.2"/>
<path d="M529.2 757.62C529.63 757.71 530.07 757.81 530.5 757.9C536.67 759.21 542.83 760.52 549 761.6C555 762.65 561 763.59 567 764.4C573.17 765.23 579.33 765.94 585.5 766.6C591.7 767.26 597.9 767.97 604.1 768.4C610.2 768.83 616.3 769.04 622.4 769.4C628.5 769.76 634.6 770.28 640.7 770.6C646.8 770.92 652.9 771.2 659 771.4C665.27 771.61 671.53 771.73 677.8 771.9C683.9 772.06 690 772.3 696.1 772.4C702.2 772.5 708.3 772.6 714.4 772.6C722.67 772.6 730.93 772.6 739.2 772.6" stroke-width="4.7" stroke-dasharray="4.6 13.7"/>
<path d="M319.2 496.7C323.73 496.7 328.27 496.78 332.8 496.9C336.97 497.01 341.13 497.63 345.3 498.2C349.47 498.77 353.63 499.71 357.8 500.7C362 501.7 366.2 502.9 370.4 504.4C374.57 505.89 378.73 507.86 382.9 510.1C385.83 511.67 388.77 513.6 391.7 515.7C395.03 518.08 398.37 521.06 401.7 523.9C404.6 526.37 407.5 529.06 410.4 531.6C412.7 533.62 415 535.62 417.3 537.6C418.53 540.53 419.77 543.64 421 547C423.1 552.72 425.2 559.83 427.3 565.8C430.03 573.58 432.77 580.91 435.5 588C437.3 592.67 439.1 597.14 440.9 601.5C444.03 609.08 447.17 616.62 450.3 623.4C454.2 631.84 458.1 639.49 462 646.9C465.9 654.31 469.8 661.65 473.7 668C477.63 674.4 481.57 680.35 485.5 685.5C489.4 690.6 493.3 695.32 497.2 699.2C501.87 703.84 506.53 707.73 511.2 711.2C517.47 715.86 523.73 719.74 530 723.4C534.47 726.01 538.93 728.33 543.4 730.6C547.27 732.56 551.13 734.5 555 736.2C558.97 737.94 562.93 739.58 566.9 741C570.6 742.33 574.3 743.55 578 744.6C582.1 745.77 586.2 746.77 590.3 747.7C594.2 748.58 598.1 749.33 602 750.1C605.9 750.87 609.8 751.59 613.7 752.3C617.47 752.99 621.23 753.68 625 754.3C629.07 754.97 633.13 755.64 637.2 756.2C645 757.27 652.8 758.27 660.6 759C668.4 759.73 676.2 760.26 684 760.8C691.83 761.35 699.67 761.9 707.5 762.3C718.07 762.83 728.63 763.31 739.2 763.6" stroke-width="3.3"/>
<path d="M319.2 505.3C327.17 505.3 335.13 505.3 343.1 505.3C346.57 505.3 350.03 506 353.5 506.3C357.23 506.63 360.97 506.78 364.7 507.2C369.8 507.77 374.9 509.1 380 510.3C386.3 511.78 392.6 513.43 398.9 515.7C402.53 517.01 406.17 518.92 409.8 520.7C416.27 523.87 422.73 527.04 429.2 531.1C432.53 533.19 435.87 536.04 439.2 538.4C442.5 540.74 445.8 542.81 449.1 545.2C454.37 549.01 459.63 553.06 464.9 557.4C467.13 561.98 469.37 566.41 471.6 570.7C473.53 574.41 475.47 577.86 477.4 581.5C480.73 587.78 484.07 594.72 487.4 600.6C489.6 604.48 491.8 607.91 494 611.5C496.17 615.04 498.33 618.58 500.5 622C504.57 628.41 508.63 634.78 512.7 640.7C514.97 644 517.23 647.3 519.5 650.2C522.13 653.57 524.77 656.49 527.4 659.5C528 660.19 528.6 660.86 529.2 661.52" stroke-width="3.3" stroke-dasharray="20.75 12.8 0.01 12.8" stroke-dashoffset="-1.2"/>
<path d="M529.2 661.52C534.3 667.13 539.4 672.66 544.5 677.8C547.4 680.72 550.3 683.56 553.2 686.2C556.33 689.06 559.47 691.92 562.6 694.3C568.77 698.97 574.93 702.62 581.1 706.5C584.57 708.68 588.03 710.91 591.5 712.8C595 714.71 598.5 716.42 602 718C609.07 721.19 616.13 724.08 623.2 726.6C627 727.96 630.8 729.31 634.6 730.3C638.3 731.26 642 731.86 645.7 732.7C653.2 734.41 660.7 736.38 668.2 738.2C672.07 739.14 675.93 740.2 679.8 741C683.7 741.8 687.6 742.39 691.5 743.1C698.97 744.47 706.43 745.92 713.9 747.3C717.9 748.04 721.9 748.79 725.9 749.5C730.33 750.29 734.77 751.06 739.2 751.8" stroke-width="3.3" stroke-dasharray="20.75 12.8 0.01 12.8"/>
<path d="M319.2 515.7C334.17 515.7 349.13 515.83 364.1 516.1C370.37 516.21 376.63 517.09 382.9 517.8C389.17 518.51 395.43 519.54 401.7 520.7C405.87 521.47 410.03 522.44 414.2 523.5C418.8 524.67 423.4 526.15 428 527.6C432.17 528.92 436.33 530.22 440.5 531.8C444.77 533.42 449.03 535.42 453.3 537.4C461.6 541.25 469.9 545.49 478.2 549.9C486.53 554.33 494.87 559.26 503.2 564C508.73 567.15 514.27 570.07 519.8 573.5C522.57 575.21 525.33 577.08 528.1 579C528.47 579.41 528.83 579.81 529.2 580.24" stroke-width="3.3" stroke-dasharray="5.3 7.2"/>
<path d="M529.2 580.24C532.17 583.72 535.13 587.42 538.1 591.5C540.4 594.66 542.7 598.73 545 601.8C547.7 605.4 550.4 608.07 553.1 611.5C555.33 614.33 557.57 617.64 559.8 620.5C563.1 624.72 566.4 628.7 569.7 632.5C571.97 635.11 574.23 637.53 576.5 640C579.77 643.55 583.03 647.24 586.3 650.5C588.6 652.8 590.9 654.93 593.2 657C599.3 662.49 605.4 668.01 611.5 672.5C619 678.02 626.5 682.6 634 687C641.5 691.4 649 695.5 656.5 699.1C663.73 702.57 670.97 705.45 678.2 708.5C685.4 711.54 692.6 714.46 699.8 717.4C707.57 720.57 715.33 723.62 723.1 726.8C728.47 729 733.83 731.24 739.2 733.5" stroke-width="3.3" stroke-dasharray="3.6 8.9"/>
</g>
<path d="M605.6 492.1H657" stroke-width="2.3"/>
<path d="M605.6 519.6H657" stroke-width="3.3" stroke-dasharray="20.75 13.6"/>
<path d="M605.6 547.3H657" stroke-width="4.7" stroke-dasharray="0.01 9.2"/>
<path d="M605.6 574.5H657" stroke-width="3.3"/>
<path d="M605.6 601.9H657" stroke-width="3.3" stroke-dasharray="20.75 12.8 0.01 12.8"/>
<path d="M605.6 629.3H657" stroke-width="3.3" stroke-dasharray="5.3 7.2"/>
<path d="M605.6 656.7H657.6" stroke-width="2.3"/>
<g font-size="14.3">
<text x="663.7" y="497.02">300</text>
<text x="692.5" y="497.02">30</text>
<text x="663.7" y="524.52">300</text>
<text x="692.5" y="524.52">40</text>
<text x="663.7" y="552.22">300</text>
<text x="692.5" y="552.22">50</text>
<text x="663.7" y="579.42">300</text>
<text x="692.5" y="579.42">60</text>
<text x="663.7" y="606.82">300</text>
<text x="692.5" y="606.82">70</text>
<text x="663.7" y="634.22">300</text>
<text x="692.5" y="634.22">80</text>
<text x="664.4" y="661.62" textLength="68.2" lengthAdjust="spacingAndGlyphs">M applied</text>
</g>
<text transform="translate(253 643.9) rotate(-90)" font-size="19" text-anchor="middle" textLength="217" lengthAdjust="spacingAndGlyphs">Flexural Capacity (kN·m)</text>
<text x="540.1" y="879.5" font-size="18.25" text-anchor="middle" textLength="87.2" lengthAdjust="spacingAndGlyphs">Time(min)</text>
<text x="509.7" y="917.2" font-size="24" text-anchor="middle" class="cap">(<tspan class="capb">c</tspan>)</text>
</svg>
</body></html>
